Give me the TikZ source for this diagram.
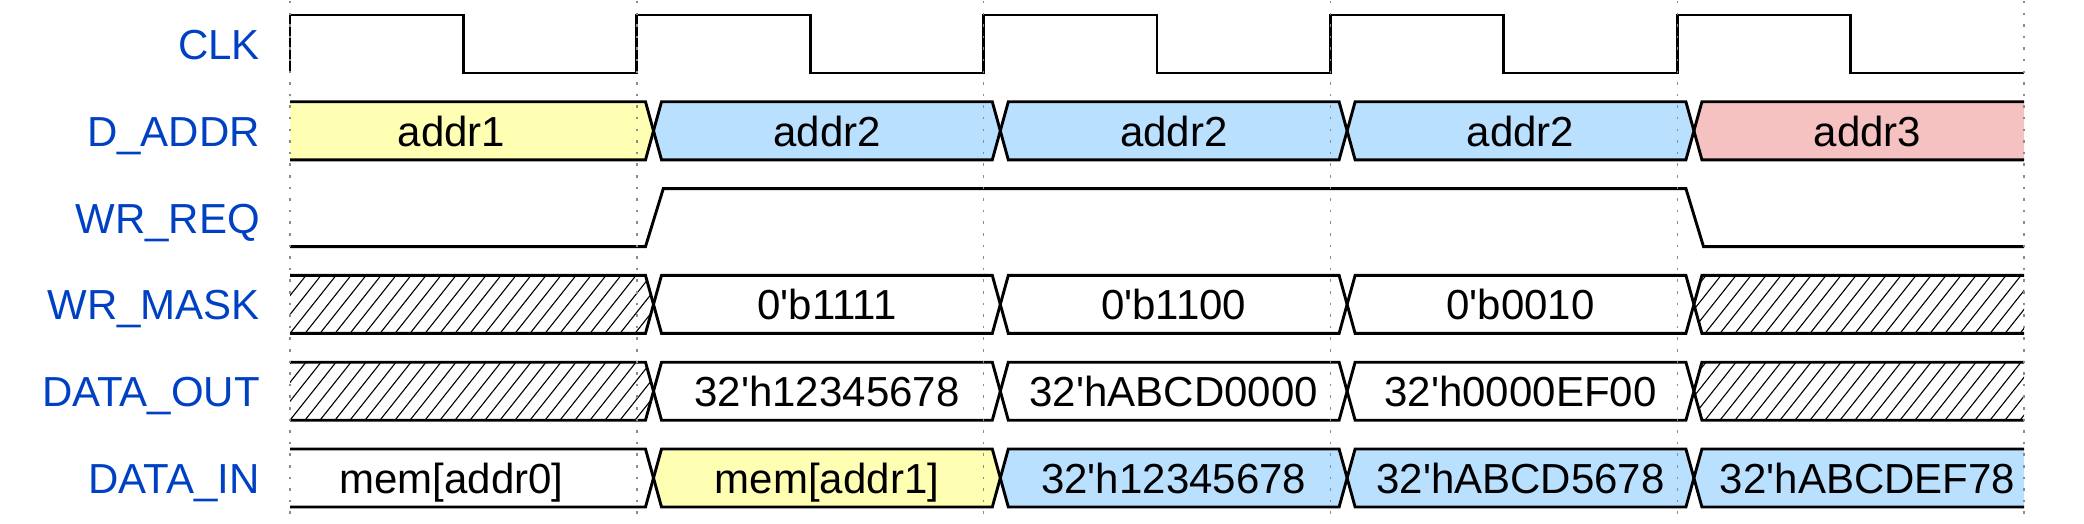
\documentclass[tikz,border=0pt]{standalone}
\usepackage{fontspec}
\setmainfont{Liberation Sans}
\definecolor{lbl}{HTML}{0041C4}
\definecolor{wyel}{HTML}{FFFFB4}
\definecolor{wblu}{HTML}{B9E0FF}
\definecolor{wred}{HTML}{F5C1C1}
\newcommand\ap{\textquotesingle}
% closed path of an inner data segment: left crossing, right crossing, top
\newcommand\segpath[3]{({#1+8},#3) -- ({#2-8},#3) -- (#2,{#3+29}) -- ({#2-8},{#3+58}) -- ({#1+8},{#3+58}) -- (#1,{#3+29}) -- cycle}
\newcommand\firstpath[2]{(290,#2) -- ({#1-8},#2) -- (#1,{#2+29}) -- ({#1-8},{#2+58}) -- (290,{#2+58})}
\newcommand\lastpath[2]{(2024,#2) -- ({#1+8},#2) -- (#1,{#2+29}) -- ({#1+8},{#2+58}) -- (2024,{#2+58})}
\begin{document}
\begin{tikzpicture}[x=1pt,y=-1pt,
  wave/.style={line width=2.9pt,black},
  gridln/.style={black!45,line width=1.4pt,dash pattern=on 2.5pt off 9.1pt},
  sig/.style={text=lbl,anchor=base east,inner sep=0pt,font=\fontsize{42}{50}\selectfont},
  val/.style={text=black,anchor=base,inner sep=0pt,font=\fontsize{42}{50}\selectfont},
  hatchln/.style={line width=1.1pt,black}]
\useasboundingbox (0,0) rectangle (2084,524);
\def\cA{653.5}\def\cB{1000.3}\def\cC{1347.1}\def\cD{1693.9}
\def\tA{101.8}\def\tM{275.4}\def\tO{362.2}\def\tI{449}
% ---- fills ----
\fill[wyel] \firstpath{\cA}{\tA} -- cycle;
\fill[wblu] \segpath{\cA}{\cB}{\tA};
\fill[wblu] \segpath{\cB}{\cC}{\tA};
\fill[wblu] \segpath{\cC}{\cD}{\tA};
\fill[wred] \lastpath{\cD}{\tA} -- cycle;
\fill[white] \firstpath{\cA}{\tI} -- cycle;
\fill[wyel] \segpath{\cA}{\cB}{\tI};
\fill[wblu] \segpath{\cB}{\cC}{\tI};
\fill[wblu] \segpath{\cC}{\cD}{\tI};
\fill[wblu] \lastpath{\cD}{\tI} -- cycle;
% ---- hatching ----
\foreach \t in {\tM,\tO}{
  \begin{scope}
    \clip \firstpath{\cA}{\t} -- cycle;
    \foreach \k in {-4,...,25} \draw[hatchln] ({290+15*\k},{\t+58}) -- ++(46,-58);
  \end{scope}
  \begin{scope}
    \clip \lastpath{\cD}{\t} -- cycle;
    \foreach \k in {-4,...,23} \draw[hatchln] ({1690+15*\k},{\t+58}) -- ++(46,-58);
  \end{scope}
}
% ---- outlines ----
\foreach \t in {\tA,\tM,\tO,\tI}{
  \draw[wave] \firstpath{\cA}{\t};
  \draw[wave] \segpath{\cA}{\cB}{\t};
  \draw[wave] \segpath{\cB}{\cC}{\t};
  \draw[wave] \segpath{\cC}{\cD}{\t};
  \draw[wave] \lastpath{\cD}{\t};
}
% CLK
\draw[wave] (290,73) -- (290,15) -- (463.4,15) -- (463.4,73) -- (636.8,73) -- (636.8,15)
  -- (810.2,15) -- (810.2,73) -- (983.6,73) -- (983.6,15) -- (1157,15) -- (1157,73)
  -- (1330.4,73) -- (1330.4,15) -- (1503.8,15) -- (1503.8,73) -- (1677.2,73) -- (1677.2,15)
  -- (1850.6,15) -- (1850.6,73) -- (2024,73);
% WR_REQ
\draw[wave] (290,246.6) -- (645.5,246.6) -- (663.3,188.6) -- (1685.9,188.6) -- (1703.5,246.6) -- (2024,246.6);
% ---- grid ----
\foreach \i in {0,...,5} \draw[gridln] ({290+346.8*\i},1) -- ({290+346.8*\i},518);
% ---- labels ----
\node[sig] (lclk) at (260,59.5) {CLK};
\node[sig] (laddr) at (260,146.3) {D\_ADDR};
\node[sig] (lreq) at (260,233.1) {WR\_REQ};
\node[sig] (lmask) at (260,319.9) {WR\_MASK};
\node[sig] (lout) at (260,406.7) {DATA\_OUT};
\node[sig] (lin) at (260,493.5) {DATA\_IN};
% ---- values ----
\node[val] (a1) at (451.5,146.3) {addr1};
\node[val] (a2) at (827,146.3) {addr2};
\node[val] (a3) at (1173.7,146.3) {addr2};
\node[val] (a4) at (1520.5,146.3) {addr2};
\node[val] (a5) at (1867.5,146.3) {addr3};
\node[val] (m2) at (827,319.9) {0\ap b1111};
\node[val] (m3) at (1173.7,319.9) {0\ap b1100};
\node[val] (m4) at (1520.5,319.9) {0\ap b0010};
\node[val] (o2) at (827,406.7) {32\ap h12345678};
\node[val] (o3) at (1173.7,406.7) {32\ap hABCD0000};
\node[val] (o4) at (1520.5,406.7) {32\ap h0000EF00};
\node[val] (i1) at (451.5,493.5) {mem[addr0]};
\node[val] (i2) at (827,493.5) {mem[addr1]};
\node[val] (i3) at (1173.7,493.5) {32\ap h12345678};
\node[val] (i4) at (1520.5,493.5) {32\ap hABCD5678};
\node[val] (i5) at (1867.5,493.5) {32\ap hABCDEF78};
\end{tikzpicture}
\end{document}
